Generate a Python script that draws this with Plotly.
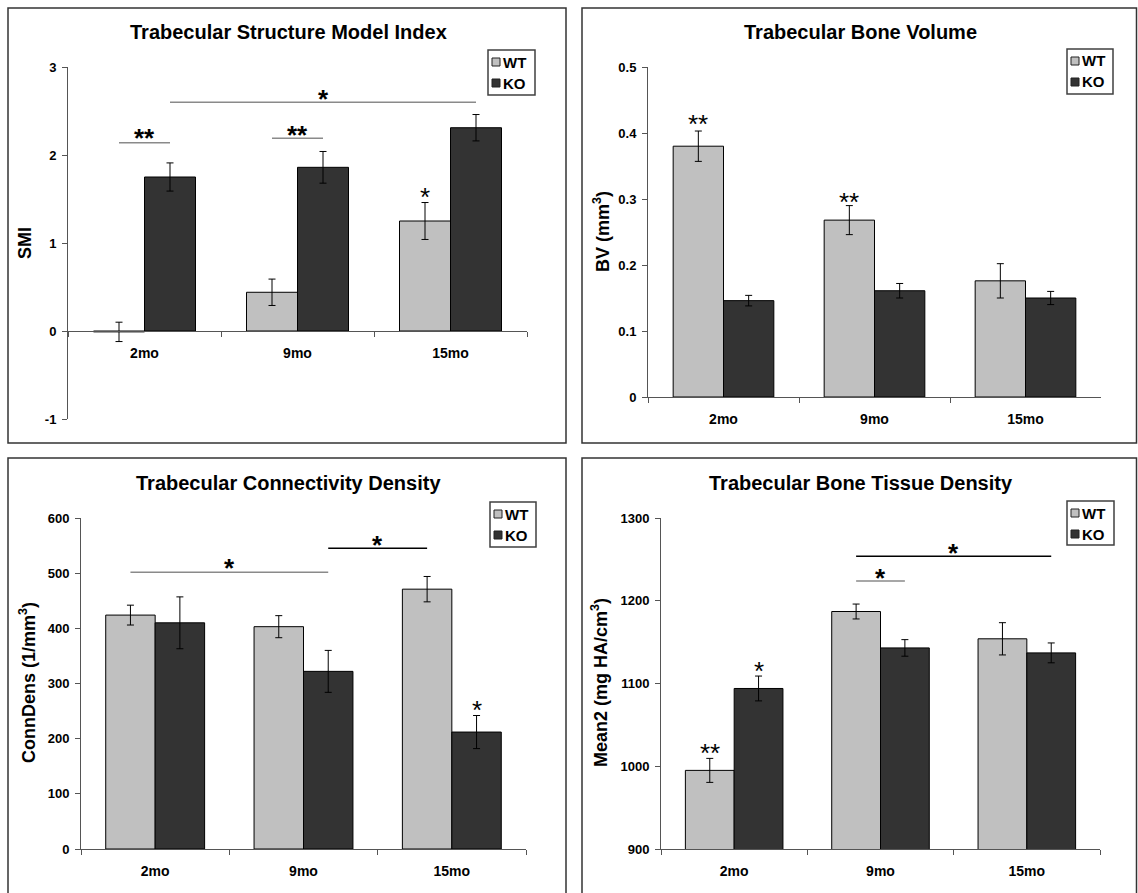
import plotly.graph_objects as go

W, H = 1138, 893

# ---------------- data ----------------
categories = ["2mo", "9mo", "15mo"]
series_names = ["WT", "KO"]
series_colors = ["#c0c0c0", "#333333"]

smi_wt = [-0.01, 0.44, 1.25]
smi_wt_err = [0.11, 0.15, 0.21]
smi_ko = [1.75, 1.86, 2.31]
smi_ko_err = [0.16, 0.18, 0.15]

bv_wt = [0.380, 0.268, 0.176]
bv_wt_err = [0.023, 0.022, 0.026]
bv_ko = [0.146, 0.161, 0.150]
bv_ko_err = [0.008, 0.011, 0.010]

conn_wt = [424, 403, 471]
conn_wt_err = [18, 20, 23]
conn_ko = [410, 322, 212]
conn_ko_err = [47, 38, 30]

mean2_wt = [995, 1187, 1154]
mean2_wt_err = [14.5, 9, 19.5]
mean2_ko = [1094, 1143, 1137]
mean2_ko_err = [15, 10, 12]

titles = ["Trabecular Structure Model Index", "Trabecular Bone Volume",
          "Trabecular Connectivity Density", "Trabecular Bone Tissue Density"]
ytitles = ["SMI", "BV (mm<sup>3</sup>)", "ConnDens (1/mm<sup>3</sup>)",
           "Mean2 (mg HA/cm<sup>3</sup>)"]

# y tick labels per panel
yticks = [[-1, 0, 1, 2, 3],
          [0, 0.1, 0.2, 0.3, 0.4, 0.5],
          [0, 100, 200, 300, 400, 500, 600],
          [900, 1000, 1100, 1200, 1300]]
yticklabels = [["-1", "0", "1", "2", "3"],
               ["0", "0.1", "0.2", "0.3", "0.4", "0.5"],
               ["0", "100", "200", "300", "400", "500", "600"],
               ["900", "1000", "1100", "1200", "1300"]]

# significance brackets: (cat_a, series_a, cat_b, series_b, y, label, gray?)
brackets = [
    [(0, 0, 0, 1, 2.14, "**", True), (1, 0, 1, 1, 2.19, "**", True),
     (0, 1, 2, 1, 2.60, "*", True)],
    [],
    [(0, 0, 1, 1, 501.5, "*", True), (1, 1, 2, 0, 545, "*", False)],
    [(1, 0, 1, 1, 1224, "*", True), (1, 0, 2, 1, 1253.7, "*", False)],
]
bracket_label_y = [[2.26, 2.30, 2.70], [], [520, 562.5], [1235, 1265]]
# stars over single bars: (cat, series, y, label)
bar_stars = [
    [(2, 0, 1.59, "*")],
    [(0, 0, 0.422, "**"), (1, 0, 0.304, "**")],
    [(2, 1, 263, "*")],
    [(0, 0, 1023.5, "**"), (0, 1, 1122, "*")],
]

values = [(smi_wt, smi_wt_err, smi_ko, smi_ko_err),
          (bv_wt, bv_wt_err, bv_ko, bv_ko_err),
          (conn_wt, conn_wt_err, conn_ko, conn_ko_err),
          (mean2_wt, mean2_wt_err, mean2_ko, mean2_ko_err)]

# ---------------- layout geometry (pixels) ----------------
panels = [
    dict(box=(8, 8, 566, 443), plot=(68, 527, 67, 419), yr=(-1, 3),
         title_xy=(288, 32), ytitle_xy=(25, 243), legend=(488, 50, 535, 95), bottom=True),
    dict(box=(582, 8, 1136.5, 443), plot=(648, 1101, 67, 397), yr=(0, 0.5),
         title_xy=(860, 32), ytitle_xy=(601, 232), legend=(1067, 49, 1113, 94), bottom=True),
    dict(box=(8, 458, 566, 893), plot=(81, 526, 518, 849), yr=(0, 600),
         title_xy=(288, 483), ytitle_xy=(27, 683), legend=(490, 502, 536, 547), bottom=False),
    dict(box=(582, 458, 1136.5, 893), plot=(661, 1100, 518, 849), yr=(900, 1300),
         title_xy=(861, 483), ytitle_xy=(599, 683), legend=(1067, 501, 1114, 545), bottom=False),
]


def px(x):
    return x / W


def py(y):
    return 1 - y / H


FONT = "Liberation Sans, Arial, sans-serif"
AXC = "#555555"
offsets = [-1 / 6, 1 / 6]

fig = go.Figure()
shapes = []
annotations = []
layout = {}

for i, p in enumerate(panels):
    n = "" if i == 0 else str(i + 1)
    xa, ya = "x" + n, "y" + n
    wt, wte, ko, koe = values[i]
    for s, (vals, errs) in enumerate([(wt, wte), (ko, koe)]):
        fig.add_trace(go.Bar(
            x=categories, y=vals, name=series_names[s], xaxis=xa, yaxis=ya,
            showlegend=False,
            marker=dict(color=series_colors[s], line=dict(color="black", width=1)),
            error_y=dict(type="data", array=errs, color="black", thickness=1, width=3.5),
        ))
    x0, x1, ytop, ybot = p["plot"]
    y0v, y1v = p["yr"]
    xaxis = dict(domain=[px(x0), px(x1)], type="category", range=[-0.5, 2.5],
                 tickson="boundaries", ticks="outside", ticklen=5, tickcolor=AXC,
                 showline=True, linecolor=AXC, linewidth=1, showgrid=False,
                 tickfont=dict(family=FONT, size=14, color="black", weight="bold"),
                 ticklabelstandoff=9, fixedrange=True, automargin=False)
    if y0v < 0:
        zero_py = ybot - (0 - y0v) / (y1v - y0v) * (ybot - ytop)
        xaxis.update(anchor="free", position=py(zero_py))
    else:
        xaxis.update(anchor=ya)
    yaxis = dict(domain=[py(ybot), py(ytop)], range=[y0v, y1v],
                 tickmode="array", tickvals=yticks[i], ticktext=yticklabels[i],
                 anchor=xa, ticks="outside", ticklen=5, tickcolor=AXC,
                 showline=True, linecolor=AXC, linewidth=1, showgrid=False,
                 zeroline=False,
                 tickfont=dict(family=FONT, size=13, color="black", weight="bold"),
                 ticklabelstandoff=3, fixedrange=True, automargin=False)
    layout["xaxis" + n] = xaxis
    layout["yaxis" + n] = yaxis

    # panel border
    bx0, by0, bx1, by1 = p["box"]
    if p["bottom"]:
        shapes.append(dict(type="rect", xref="paper", yref="paper",
                           x0=px(bx0), x1=px(bx1), y0=py(by1), y1=py(by0),
                           line=dict(color="#333333", width=1.5)))
    else:
        path = "M {} {} L {} {} L {} {} L {} {}".format(
            px(bx0), py(by1), px(bx0), py(by0), px(bx1), py(by0), px(bx1), py(by1))
        shapes.append(dict(type="path", xref="paper", yref="paper", path=path,
                           line=dict(color="#333333", width=1.5)))

    # title
    tx, ty = p["title_xy"]
    annotations.append(dict(text=titles[i], xref="paper", yref="paper",
                            x=px(tx), y=py(ty), xanchor="center", yanchor="middle",
                            showarrow=False,
                            font=dict(family=FONT, size=20, color="black", weight="bold")))
    # y title
    yx, yy = p["ytitle_xy"]
    annotations.append(dict(text=ytitles[i], xref="paper", yref="paper",
                            x=px(yx), y=py(yy), xanchor="center", yanchor="middle",
                            textangle=-90, showarrow=False,
                            font=dict(family=FONT, size=18, color="black", weight="bold")))

    # legend (drawn box)
    lx0, ly0, lx1, ly1 = p["legend"]
    shapes.append(dict(type="rect", xref="paper", yref="paper",
                       x0=px(lx0), x1=px(lx1), y0=py(ly1), y1=py(ly0),
                       line=dict(color="#404040", width=1.5), fillcolor="white"))
    for s in range(2):
        cy = ly0 + 12 + s * 21
        shapes.append(dict(type="rect", xref="paper", yref="paper",
                           x0=px(lx0 + 4), x1=px(lx0 + 12), y0=py(cy + 4), y1=py(cy - 4),
                           line=dict(color="#222222", width=1), fillcolor=series_colors[s]))
        annotations.append(dict(text=series_names[s], xref="paper", yref="paper",
                                x=px(lx0 + 13), y=py(cy), xanchor="left", yanchor="middle",
                                showarrow=False,
                                font=dict(family=FONT, size=15, color="black", weight="bold")))

    # brackets
    for k, (ca, sa, cb, sb, yv, lab, gray) in enumerate(brackets[i]):
        xa0 = ca + offsets[sa]
        xb0 = cb + offsets[sb]
        shapes.append(dict(type="line", xref=xa, yref=ya, x0=xa0, x1=xb0, y0=yv, y1=yv,
                           line=dict(color="#8a8a8a" if gray else "black", width=1.5)))
        annotations.append(dict(text=lab, xref=xa, yref=ya, x=(xa0 + xb0) / 2,
                                y=bracket_label_y[i][k], xanchor="center", yanchor="middle",
                                yshift=-6, showarrow=False,
                                font=dict(family=FONT, size=26, color="black", weight="bold")))
    for (c, s, yv, lab) in bar_stars[i]:
        annotations.append(dict(text=lab, xref=xa, yref=ya, x=c + offsets[s], y=yv,
                                xanchor="center", yanchor="middle", yshift=-6,
                                showarrow=False,
                                font=dict(family=FONT, size=26, color="black")))

fig.update_layout(
    width=W, height=H, margin=dict(l=0, r=0, t=0, b=0, pad=0, autoexpand=False),
    paper_bgcolor="white", plot_bgcolor="white",
    barmode="group", bargap=1 / 3, bargroupgap=0,
    shapes=shapes, annotations=annotations, showlegend=False,
    font=dict(family=FONT, color="black"),
    **layout,
)

fig.write_html("out.html", config={"displayModeBar": False})
